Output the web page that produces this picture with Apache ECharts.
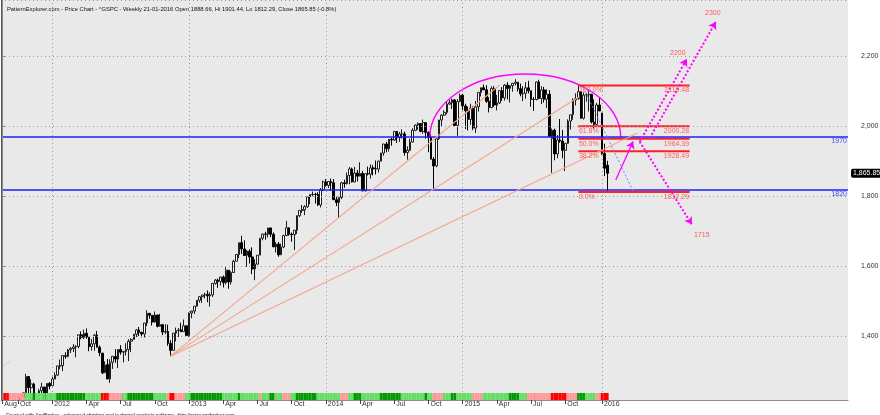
<!DOCTYPE html>
<html><head><meta charset="utf-8">
<script src="https://cdn.jsdelivr.net/npm/echarts@6/dist/echarts.min.js"></script>
<style>html,body{margin:0;padding:0;background:#fff}#c{width:880px;height:415px}</style>
</head><body><div id="c"></div>
<script>
// ---------- data (weekly bars: [open, high, low, close]) ----------
const firstWeek = '2011-08-26';
const totalSlots = 322;
const closedFridays = ['2016-01-01'];
const bars2011 = [
[1123.55,1190.68,1121.09,1176.80],[1177.91,1230.71,1171.86,1173.97],[1173.97,1204.40,1150.61,1154.23],
[1153.50,1220.06,1136.07,1216.01],[1214.99,1220.39,1114.22,1136.43],[1136.91,1195.86,1131.07,1131.42],
[1131.21,1171.40,1074.77,1155.46],[1158.15,1224.61,1158.15,1224.58],[1224.47,1238.54,1191.48,1238.25],
[1238.72,1292.66,1238.72,1285.09],[1284.96,1284.96,1215.42,1253.23],[1253.21,1277.55,1226.64,1263.85],
[1263.85,1266.98,1209.43,1215.65],[1215.62,1215.62,1158.66,1158.67],[1158.67,1249.86,1158.67,1244.28],
[1244.33,1267.06,1231.47,1255.19],[1255.05,1255.31,1202.37,1219.66],[1219.74,1265.42,1212.00,1265.33],
[1265.38,1269.37,1248.64,1257.60]];
const bars2012 = [
[1258.86,1284.62,1258.86,1277.81],[1277.83,1296.82,1277.55,1289.09],[1289.09,1315.49,1286.00,1315.38],
[1315.29,1333.47,1306.06,1316.33],[1316.16,1345.34,1300.49,1344.90],[1344.32,1354.32,1335.92,1342.64],
[1343.06,1363.40,1340.03,1361.23],[1361.22,1368.92,1352.28,1365.74],[1365.20,1378.04,1354.92,1369.63],
[1369.59,1374.76,1340.03,1370.87],[1370.78,1405.88,1365.56,1404.17],[1404.17,1414.00,1391.56,1397.11],
[1397.11,1419.15,1391.56,1408.47],[1408.47,1422.38,1392.92,1398.08],[1397.45,1397.45,1357.38,1370.26],
[1370.27,1392.76,1358.79,1378.53],[1378.53,1406.64,1358.79,1403.36],[1403.26,1415.32,1367.96,1369.10],
[1368.79,1373.91,1343.13,1353.39],[1351.93,1351.93,1291.98,1295.22],[1295.73,1328.49,1295.73,1317.82],
[1318.90,1334.93,1277.25,1278.04],[1278.29,1334.52,1266.74,1325.66],[1325.72,1343.32,1306.62,1342.84],
[1342.42,1363.46,1324.41,1335.02],[1334.90,1362.17,1309.27,1362.16],[1362.33,1374.81,1347.60,1354.68],
[1354.66,1357.26,1325.41,1356.78],[1356.78,1380.39,1345.07,1362.66],[1362.34,1391.74,1329.24,1385.97],
[1385.94,1394.16,1354.65,1390.99],[1391.04,1405.95,1391.04,1405.87],[1405.87,1420.04,1398.00,1418.16],
[1418.13,1426.68,1400.64,1411.13],[1411.13,1413.46,1397.00,1406.58],[1406.54,1437.92,1396.56,1437.92],
[1437.92,1474.51,1429.13,1465.77],[1465.42,1467.07,1449.98,1460.15],[1459.76,1460.72,1430.53,1440.67],
[1440.90,1470.96,1439.01,1460.93],[1460.93,1460.93,1425.53,1428.59],[1428.75,1464.02,1427.80,1433.19],
[1433.21,1435.46,1403.30,1411.94],[1411.94,1434.27,1405.95,1414.20],[1414.02,1433.38,1373.03,1379.85],
[1379.86,1388.81,1343.35,1359.88],[1359.88,1409.16,1359.88,1409.15],[1409.15,1424.90,1385.43,1416.18],
[1416.34,1423.73,1398.11,1418.07],[1418.07,1438.59,1411.90,1413.58],[1413.54,1448.00,1413.54,1430.15],
[1430.15,1430.15,1401.60,1402.43]];
const bars2013 = [
[1402.43,1467.94,1398.11,1466.47],[1466.47,1472.75,1451.64,1472.05],[1472.05,1486.00,1463.76,1485.98],
[1485.98,1503.26,1485.01,1502.96],[1502.96,1514.41,1496.33,1513.17],[1513.17,1518.31,1495.02,1517.93],
[1517.93,1524.69,1508.20,1519.79],[1519.79,1530.94,1497.29,1515.60],[1515.60,1525.84,1485.01,1518.20],
[1518.20,1552.48,1512.30,1551.18],[1551.18,1563.62,1547.36,1560.70],[1560.70,1564.91,1538.57,1556.89],
[1556.89,1570.28,1545.00,1569.19],[1569.18,1573.66,1539.50,1553.28],[1553.26,1597.35,1548.00,1588.85],
[1588.84,1588.84,1536.03,1555.25],[1555.25,1585.78,1548.00,1582.24],[1582.24,1618.46,1581.28,1614.42],
[1614.40,1635.01,1614.20,1633.70],[1633.70,1667.47,1623.40,1667.47],[1667.47,1687.18,1635.53,1649.60],
[1649.60,1674.21,1630.61,1630.74],[1631.71,1646.53,1598.23,1643.38],[1643.38,1648.69,1608.07,1626.73],
[1626.73,1654.19,1577.70,1592.43],[1592.43,1620.07,1560.33,1606.28],[1606.28,1632.07,1604.57,1631.89],
[1631.89,1680.19,1631.89,1680.19],[1680.26,1693.12,1674.20,1692.09],[1692.09,1698.78,1676.03,1691.65],
[1691.65,1709.67,1681.86,1709.67],[1709.67,1709.67,1683.40,1691.42],[1691.42,1696.80,1654.19,1655.83],
[1655.83,1669.51,1639.43,1663.50],[1663.50,1669.50,1627.47,1632.97],[1632.97,1664.83,1632.00,1655.17],
[1655.17,1689.97,1651.50,1687.99],[1687.99,1729.86,1686.00,1709.91],[1709.91,1711.30,1687.10,1691.75],
[1691.75,1696.60,1670.36,1690.50],[1690.50,1703.44,1646.47,1703.20],[1703.20,1745.31,1692.20,1744.50],
[1744.50,1759.82,1740.50,1759.77],[1759.77,1775.22,1752.70,1761.64],[1761.64,1774.54,1746.20,1770.61],
[1770.61,1798.22,1767.00,1798.18],[1798.18,1805.00,1777.20,1804.76],[1804.76,1813.55,1800.00,1805.81],
[1805.81,1810.00,1779.20,1805.09],[1805.09,1811.52,1772.28,1775.32],[1775.32,1823.75,1767.99,1818.32],
[1818.32,1844.89,1815.00,1841.40]];
const bars2014 = [
[1841.40,1849.44,1827.74,1831.37],[1831.37,1843.23,1823.70,1842.37],[1842.37,1850.84,1815.52,1838.70],
[1838.70,1849.30,1790.29,1790.29],[1790.29,1798.77,1772.00,1782.59],[1782.59,1798.03,1737.92,1797.02],
[1797.02,1841.65,1791.80,1838.63],[1838.63,1847.50,1824.60,1836.25],[1836.25,1867.92,1834.00,1859.45],
[1859.45,1883.57,1834.44,1878.04],[1878.04,1882.00,1839.60,1841.13],[1841.13,1883.97,1839.90,1866.52],
[1866.52,1875.20,1842.40,1857.62],[1857.62,1897.28,1857.00,1865.09],[1865.09,1872.50,1814.36,1815.69],
[1815.69,1865.00,1814.00,1864.85],[1864.85,1884.89,1859.70,1863.40],[1863.40,1891.30,1850.60,1881.14],
[1881.14,1889.00,1859.80,1878.48],[1878.48,1902.17,1862.40,1877.86],[1877.86,1901.30,1868.10,1900.53],
[1900.53,1924.03,1900.00,1923.57],[1923.57,1949.44,1915.98,1949.44],[1949.44,1955.55,1925.80,1936.16],
[1936.16,1963.91,1927.80,1962.87],[1962.87,1968.17,1944.70,1960.96],[1960.96,1985.59,1958.00,1985.44],
[1985.44,1986.00,1952.86,1967.57],[1967.57,1983.94,1955.59,1978.22],[1978.22,1991.39,1965.10,1978.34],
[1978.34,1984.90,1916.40,1925.15],[1925.15,1942.90,1904.78,1931.59],[1931.59,1964.04,1928.90,1955.06],
[1955.06,1994.76,1954.00,1988.40],[1988.40,2005.04,1986.00,2003.37],[2003.37,2011.17,1990.10,2007.71],
[2007.71,2009.10,1983.00,1985.54],[1985.54,2019.26,1978.60,2010.40],[2010.40,2011.00,1965.00,1982.85],
[1982.85,1985.20,1926.03,1967.90],[1967.90,1977.40,1906.05,1906.13],[1906.13,1912.00,1820.66,1886.76],
[1886.76,1965.27,1883.00,1964.58],[1964.58,2018.19,1961.00,2018.05],[2018.05,2034.26,2001.00,2031.92],
[2031.92,2046.18,2030.20,2039.82],[2039.82,2071.46,2034.50,2063.50],[2063.50,2075.76,2062.00,2067.56],
[2067.56,2079.47,2049.57,2075.37],[2075.37,2077.90,2002.33,2002.33],[2002.33,2077.85,1972.56,2070.65],
[2070.65,2093.55,2069.00,2088.77]];
const bars2015 = [
[2088.77,2093.00,2046.04,2058.20],[2058.20,2064.40,1992.44,2044.81],[2044.81,2056.90,1988.12,2019.42],
[2019.42,2064.62,2004.50,2051.82],[2051.82,2057.60,1989.18,1994.99],[1994.99,2072.40,1980.90,2055.47],
[2055.47,2097.00,2041.90,2096.99],[2096.99,2110.61,2085.40,2110.30],[2110.30,2119.59,2103.00,2104.50],
[2104.50,2117.52,2067.27,2071.26],[2071.26,2083.50,2039.69,2053.40],[2053.40,2113.93,2052.00,2108.10],
[2108.10,2114.86,2055.50,2061.02],[2061.02,2089.80,2045.50,2066.96],[2066.96,2102.61,2064.00,2102.06],
[2102.06,2111.91,2072.40,2081.18],[2081.18,2120.92,2073.50,2117.69],[2117.69,2125.92,2077.00,2108.29],
[2108.29,2117.66,2067.93,2116.10],[2116.10,2123.89,2099.00,2122.73],[2122.73,2134.72,2117.00,2126.06],
[2126.06,2126.22,2099.20,2107.39],[2107.39,2121.90,2085.67,2092.83],[2092.83,2115.00,2072.10,2094.11],
[2094.11,2126.60,2078.80,2109.99],[2109.99,2130.00,2094.00,2101.49],[2101.49,2101.50,2056.20,2076.78],
[2076.78,2083.40,2044.02,2076.62],[2076.62,2128.00,2074.00,2126.64],[2126.64,2132.82,2077.10,2079.65],
[2079.65,2114.20,2063.50,2103.84],[2103.84,2112.70,2067.90,2077.57],[2077.57,2105.40,2052.10,2091.54],
[2091.54,2103.50,1970.89,1970.89],[1965.15,1993.50,1867.01,1988.87],[1988.87,1993.50,1903.07,1921.22],
[1921.22,1975.00,1909.00,1961.05],[1961.05,2020.86,1953.00,1958.03],[1958.03,1989.60,1908.80,1931.34],
[1931.34,1951.40,1871.91,1951.36],[1951.36,2020.00,1950.00,2014.89],[2014.89,2033.54,1990.70,2033.11],
[2033.11,2079.74,2018.90,2075.15],[2075.15,2094.30,2059.60,2079.36],[2079.36,2116.48,2076.20,2099.20],
[2099.20,2101.00,2022.00,2023.04],[2023.04,2097.10,2019.40,2089.17],[2089.17,2094.10,2070.30,2090.11],
[2090.11,2104.27,2042.40,2091.69],[2091.69,2092.00,2008.20,2012.37],[2012.37,2076.72,1993.26,2005.55],
[2005.55,2067.00,2005.00,2060.99],[2060.99,2081.56,2043.60,2043.94]];
const bars2016 = [
[2038.20,2038.20,1918.46,1922.03],[1922.03,1950.33,1857.83,1880.33],[1888.66,1901.44,1812.29,1865.85]];

// indicator ribbon under the price pane (run of bars per state)
const bandRuns = [['R',3],['P',6],['L',3],['D',1],['L',8],['D',11],['L',6],['R',3],['P',5],['L',2],
['D',10],['L',5],['P',1],['R',2],['P',4],['L',2],['D',12],['L',6],['D',1],['L',7],['P',1],['L',3],
['D',2],['L',3],['P',3],['L',2],['D',8],['L',9],['P',3],['L',2],['D',3],['L',7],['D',8],['L',9],
['D',1],['L',2],['P',4],['L',3],['D',2],['L',6],['P',4],['L',10],['D',4],['L',3],['P',9],['R',6],
['P',4],['D',3],['L',4],['P',2],['R',3]];

// drawing annotations, in [bar index, price]
const horizLevels = [1970, 1820];
const fibLevels = [['100.0%',2116.48],['61.8%',2000.28],['50.0%',1964.39],['38.2%',1928.49],['0.0%',1812.29]];
const fibSpan = [219, 261.3];
const fanOrigin = [64, 1343.35];
const fanEnds = [[189.1,2118],[219.4,2085],[241.5,1981]];
const stubLine = [[-0.3,1312],[3.1,1329]];
const targetArrows = [[[246.1,1965.7],[271.2,2298]],[[242.3,1956],[260.2,2192]],[[242.3,1956],[262.1,1720]]];
const targetLabels = [['2300',270.1,2323],['2200',256.8,2210],['1715',265.9,1690]];
const swingArrow = [[233.2,1846.6],[239.8,1956.6]];
const dropLine = [[221,2109],[239.8,1815]];
const arcSpec = [162.5, 235.1, 1969.4, 2149.4];
const lastClose = 1865.85;
const titleText = 'PatternExplorer.com - Price Chart - ^GSPC - Weekly 21-01-2016 Open 1888.66, Hi 1901.44, Lo 1812.29, Close 1865.85 (-0.8%)';
const footerText = 'Created with AmiBroker - advanced charting and technical analysis software. http://www.amibroker.com';

// ---------- build ----------
const FONT = 'Liberation Sans, Arial, sans-serif';
const allBars = [].concat(bars2011, bars2012, bars2013, bars2014, bars2015, bars2016);
const nBars = allBars.length;
const candleData = allBars.map(b => [b[0], b[3], b[2], b[1]]);
const monthAbbr = ['Jan','Feb','Mar','Apr','May','Jun','Jul','Aug','Sep','Oct','Nov','Dec'];
const dates = [];
const t0 = Date.parse(firstWeek + 'T00:00:00Z');
for (let i = 0; i < totalSlots; i++) {
  let s = new Date(t0 + i * 7 * 86400000).toISOString().slice(0, 10);
  if (closedFridays.includes(s)) s = new Date(t0 + i * 7 * 86400000 - 86400000).toISOString().slice(0, 10);
  dates.push(s);
}
const mon = i => +dates[i].slice(5, 7);
const isLabelIdx = i => i < nBars && (i === 0 || (mon(i) !== mon(i - 1) && [1,4,7,10].includes(mon(i))));
const isYearIdx = i => i > 0 && i < nBars && dates[i].slice(0, 4) !== dates[i - 1].slice(0, 4);
const yearIdx = dates.map((d, i) => i).filter(isYearIdx);
const bandColors = {R:'#ff0000', P:'#ff9a9a', L:'#66dd66', D:'#009a00'};
const bandData = [];
bandRuns.forEach(([c, n]) => { for (let k = 0; k < n; k++) bandData.push({value: 1, itemStyle: {color: bandColors[c]}}); });

const salmon = '#f3a68c', magenta = '#ff00ff', fibRed = '#ff2020', fibText = '#ff5a5a';
const mlines = [];
horizLevels.forEach(v => mlines.push({yAxis: v, lineStyle: {color: '#1f1fff', width: 1.6, type: 'solid'},
  label: {show: true, position: 'insideEndBottom', formatter: String(v), color: '#4a4aff', fontSize: 7, fontFamily: FONT, distance: 1}}));
fanEnds.forEach(e => mlines.push([{coord: fanOrigin, lineStyle: {color: salmon, width: 1.1, type: 'solid'}}, {coord: e}]));
mlines.push([{coord: stubLine[0], lineStyle: {color: salmon, width: 1, type: [1,1]}}, {coord: stubLine[1]}]);
targetArrows.forEach(a => mlines.push([{coord: a[0], symbol: 'none', lineStyle: {color: magenta, width: 2, type: [2,2]}}, {coord: a[1], symbol: 'arrow', symbolSize: 7}]));
mlines.push([{coord: swingArrow[0], symbol: 'none', lineStyle: {color: magenta, width: 1.3, type: 'solid'}}, {coord: swingArrow[1], symbol: 'arrow', symbolSize: 7}]);
mlines.push([{coord: dropLine[0], lineStyle: {color: '#7d7dff', width: 1, type: [2,2]}}, {coord: dropLine[1]}]);

const textPoints = targetLabels.map(([t, x, y]) => ({coord: [x, y], label: {show: true, position: 'inside', formatter: t,
  color: fibText, fontSize: 7, fontFamily: FONT}}));
fibLevels.forEach(([pct, v]) => {
  textPoints.push({coord: [fibSpan[1], v], label: {show: true, position: [0, 2], align: 'right', verticalAlign: 'top',
    formatter: v.toFixed(2), color: fibText, fontSize: 7, fontFamily: FONT}});
  textPoints.push({coord: [fibSpan[0], v], label: {show: true, position: [1, 2], align: 'left', verticalAlign: 'top',
    formatter: pct, color: fibText, fontSize: 7, fontFamily: FONT}});
});
const fibSeries = fibLevels.map(([pct, v]) => ({type: 'line', xAxisIndex: 1, yAxisIndex: 0, z: 4, silent: true,
  symbol: 'none', data: [[fibSpan[0], v], [fibSpan[1], v]], lineStyle: {color: fibRed, width: 2}}));

const option = {
  animation: false,
  backgroundColor: '#ffffff',
  textStyle: {fontFamily: FONT},
  title: [
    {text: titleText, left: 2, top: 1, z: 12, textStyle: {fontSize: 5.8, fontWeight: 'normal', color: '#111', fontFamily: FONT}},
    {text: footerText, left: 1, top: 408, z: 12, textStyle: {fontSize: 5, fontWeight: 'normal', color: '#111', fontFamily: FONT}}
  ],
  graphic: [
    {type: 'rect', z: 8, silent: true, shape: {x: 0, y: 400.5, width: 849, height: 15}, style: {fill: '#ffffff'}}
  ],
  grid: [
    {left: 1, right: 32, top: 0, bottom: 15, show: true, backgroundColor: '#e9e9e9', borderWidth: 0, containLabel: false, outerBoundsMode: 'none'},
    {left: 1, right: 32, top: 393, height: 7, show: false, containLabel: false, outerBoundsMode: 'none'}
  ],
  xAxis: [
    {type: 'category', gridIndex: 0, data: dates, boundaryGap: true, z: 10,
     axisLine: {show: true, lineStyle: {color: '#8c8c8c', width: 1}},
     axisTick: {show: true, interval: isLabelIdx, alignWithLabel: true, length: 4, lineStyle: {color: '#444'}},
     axisLabel: {show: true, interval: isLabelIdx, hideOverlap: false, align: 'left', margin: 1, padding: [0,0,0,2],
       fontSize: 7, color: '#333', fontFamily: FONT,
       formatter: v => { const m = +v.slice(5, 7); return m === 1 ? v.slice(0, 4) : monthAbbr[m - 1]; }},
     splitLine: {show: false}},
    {type: 'value', gridIndex: 0, min: -0.5, max: totalSlots - 0.5, show: false, splitLine: {show: false}},
    {type: 'category', gridIndex: 1, data: dates, boundaryGap: true, show: false}
  ],
  yAxis: [
    {type: 'value', gridIndex: 0, position: 'right', min: 1218, max: 2360.9, splitNumber: 5, z: 10,
     axisLine: {show: true, lineStyle: {color: '#8c8c8c'}},
     axisTick: {show: true, length: 3, lineStyle: {color: '#8c8c8c'}},
     axisLabel: {margin: 13, fontSize: 7, color: '#333', fontFamily: FONT, showMinLabel: false, showMaxLabel: false,
       formatter: v => (Math.abs(v % 200) < 1e-6 ? v.toLocaleString('en-US') : '')},
     splitLine: {show: true, lineStyle: {color: '#9a9a9a', type: [1,3], width: 1}}},
    {type: 'value', gridIndex: 0, position: 'left', min: 1218, max: 2360.9, z: 10,
     axisLine: {show: true, lineStyle: {color: '#555'}}, axisTick: {show: false}, axisLabel: {show: false}, splitLine: {show: false}},
    {type: 'value', gridIndex: 1, min: 0, max: 1, show: false, splitLine: {show: false}}
  ],
  series: [
    {type: 'line', xAxisIndex: 1, yAxisIndex: 0, data: [], z: 1,
     markLine: {silent: true, symbol: 'none', animation: false, z: 1, label: {show: false},
       data: yearIdx.map(i => ({xAxis: i, lineStyle: {color: '#9a9a9a', type: [1,3], width: 1}}))}},
    {type: 'candlestick', xAxisIndex: 0, yAxisIndex: 0, data: candleData, barWidth: '82%', z: 2, clip: true,
     itemStyle: {color: '#ffffff', color0: '#000000', borderColor: '#1e1e1e', borderColor0: '#000000', borderWidth: 1},
     markLine: {silent: true, symbol: 'none', animation: false,
       data: [{yAxis: lastClose, lineStyle: {color: 'rgba(0,0,0,0)', width: 1},
         label: {show: true, position: 'end', distance: 3, formatter: lastClose.toLocaleString('en-US'), color: '#fff',
           backgroundColor: '#000', padding: [1,2,1,2], borderRadius: 2, fontSize: 7, fontFamily: FONT}}]}},
    {type: 'line', xAxisIndex: 1, yAxisIndex: 0, data: [], z: 4,
     markLine: {silent: true, symbol: 'none', animation: false, label: {show: false}, data: mlines},
     markPoint: {silent: true, animation: false, symbol: 'rect', symbolSize: 1, itemStyle: {color: 'rgba(0,0,0,0)'},
       data: textPoints}},
    ...fibSeries,
    {type: 'custom', xAxisIndex: 1, yAxisIndex: 0, z: 4, data: [arcSpec], encode: {x: [0, 1], y: [2, 3]},
     renderItem: (params, api) => {
       const x1 = api.value(0), x2 = api.value(1), yb = api.value(2), yt = api.value(3);
       const a = api.coord([x1, yb]), b = api.coord([x2, yb]), t = api.coord([(x1 + x2) / 2, yt]);
       const rx = (b[0] - a[0]) / 2, ry = a[1] - t[1];
       return {type: 'path', shape: {pathData: `M${a[0]} ${a[1]} A${rx} ${ry} 0 0 1 ${b[0]} ${b[1]}`},
         style: {fill: 'none', stroke: magenta, lineWidth: 1.4}};
     }},
    {type: 'bar', xAxisIndex: 2, yAxisIndex: 2, data: bandData, barWidth: '100%', barCategoryGap: '0%', z: 6, silent: true}
  ]
};
const chart = echarts.init(document.getElementById('c'), null, {renderer: 'canvas'});
chart.setOption(option);
</script></body></html>
